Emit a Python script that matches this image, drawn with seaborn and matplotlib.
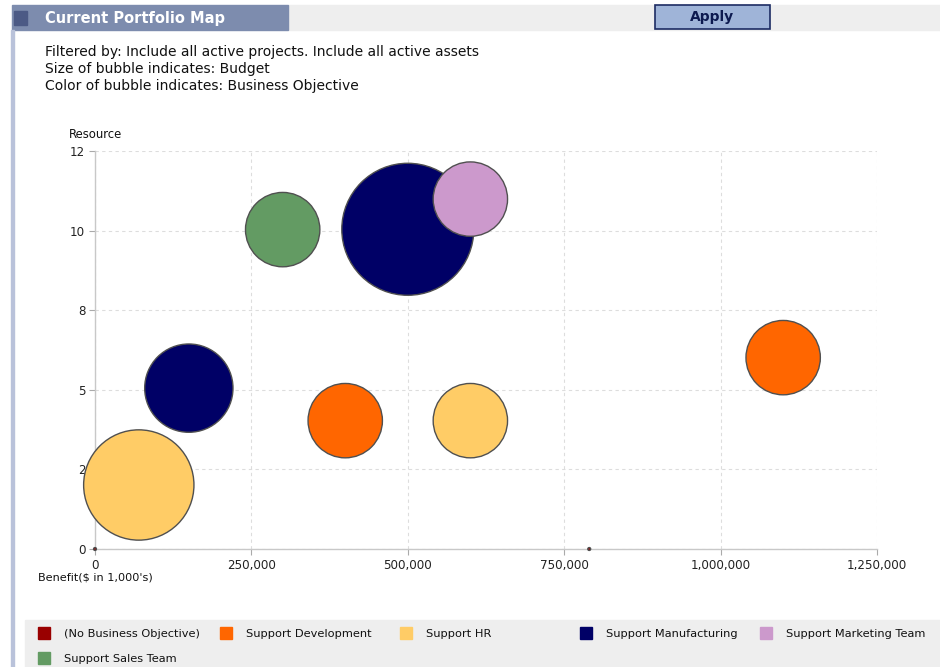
import matplotlib
matplotlib.use("Agg")
import matplotlib.pyplot as plt
from matplotlib.patches import Rectangle
import seaborn as sns
import pandas as pd

# ---- data ----
objectives = ["(No Business Objective)", "Support Development", "Support HR",
              "Support Manufacturing", "Support Marketing Team", "Support Sales Team"]
colors = ["#990000", "#ff6600", "#ffcc66", "#000066", "#cc99cc", "#639b63"]

proj_objective = ["Support HR", "Support Manufacturing", "Support Sales Team",
                  "Support Manufacturing", "Support Marketing Team", "Support Development",
                  "Support HR", "Support Development",
                  "(No Business Objective)", "(No Business Objective)"]
benefit = [70000, 150000, 300000, 500000, 600000, 400000, 600000, 1100000, 790000, 0]
resource = [1.93, 4.85, 9.63, 9.64, 10.55, 3.87, 3.87, 5.77, 0.0, 0.0]
budget = [220, 141, 100, 315, 100, 100, 100, 100, 0.15, 0.15]

x_ticks = [0, 250000, 500000, 750000, 1000000, 1250000]
x_labels = ["0", "250,000", "500,000", "750,000", "1,000,000", "1,250,000"]
y_ticks = [0, 2.4, 4.8, 7.2, 9.6, 12]
y_labels = ["0", "2", "5", "8", "10", "12"]

df = pd.DataFrame({"Objective": proj_objective, "Benefit": benefit,
                   "Resource": resource, "Budget": budget})
palette = dict(zip(objectives, colors))

W, H = 940, 667
fig = plt.figure(figsize=(W / 100, H / 100), dpi=100)
fig.patch.set_facecolor("white")

def fx(px):
    return px / W

def fy(py):
    return 1 - py / H

# ---- page chrome ----
fig.patches.append(Rectangle((fx(288), fy(30)), fx(940 - 288), 25 / H,
                             transform=fig.transFigure, color="#eeeeee", zorder=0))
fig.patches.append(Rectangle((fx(12), fy(30)), fx(276), 25 / H,
                             transform=fig.transFigure, color="#7d8cae", zorder=1))
fig.patches.append(Rectangle((fx(14), fy(25)), fx(13), 14 / H,
                             transform=fig.transFigure, color="#4c5a85", zorder=2))
fig.text(fx(45), fy(18), "Current Portfolio Map", color="white", fontsize=10.5,
         fontweight="bold", va="center", ha="left", zorder=3)
fig.patches.append(Rectangle((fx(655), fy(29)), fx(115), 24 / H,
                             transform=fig.transFigure, facecolor="#9fb4d8",
                             edgecolor="#1d2c63", linewidth=1.2, zorder=2))
fig.text(fx(712), fy(17), "Apply", color="#0d1a50", fontsize=10, fontweight="bold",
         va="center", ha="center", zorder=3)
fig.patches.append(Rectangle((fx(11), 0), fx(3), fy(30),
                             transform=fig.transFigure, color="#b9c2da", zorder=1))

for i, line in enumerate(["Filtered by: Include all active projects. Include all active assets",
                          "Size of bubble indicates: Budget",
                          "Color of bubble indicates: Business Objective"]):
    fig.text(fx(45), fy(52 + 17 * i), line, fontsize=10, color="#111111",
             va="center", ha="left")

# ---- chart ----
ax = fig.add_axes([fx(95), fy(549), fx(877 - 95), (549 - 151) / H])
sns.scatterplot(data=df, x="Benefit", y="Resource", hue="Objective", palette=palette,
                size="Budget", sizes=(0, 9033), size_norm=(0, 315),
                edgecolor="#505050", linewidth=1.0, legend=False, ax=ax, zorder=3)
for c in ax.collections:
    c.set_clip_on(False)

ax.set_xlim(0, 1250000)
ax.set_ylim(0, 12)
ax.set_xticks(x_ticks)
ax.set_xticklabels(x_labels)
ax.set_yticks(y_ticks)
ax.set_yticklabels(y_labels)
ax.tick_params(axis="both", labelsize=8.6, colors="#aaaaaa", labelcolor="#222222",
               length=4, width=0.8, pad=3)
ax.grid(True, linestyle=(0, (3, 3)), color="#dddddd", linewidth=0.8)
ax.set_axisbelow(True)
for s in ["top", "right"]:
    ax.spines[s].set_visible(False)
for s in ["left", "bottom"]:
    ax.spines[s].set_color("#c8c8c8")
    ax.spines[s].set_linewidth(1.0)
ax.set_xlabel("")
ax.set_ylabel("")
fig.text(fx(69), fy(134), "Resource", fontsize=8.4, color="#111111", va="center", ha="left")
fig.text(fx(38), fy(577), "Benefit($ in 1,000's)", fontsize=8.1, color="#111111",
         va="center", ha="left")

# ---- legend ----
fig.patches.append(Rectangle((fx(25), 0), fx(915), (667 - 620) / H,
                             transform=fig.transFigure, color="#eeeeee", zorder=0))
pos = [(38, 633), (220, 633), (400, 633), (580, 633), (760, 633), (38, 658)]
for (px, py), name, col in zip(pos, objectives, colors):
    fig.patches.append(Rectangle((fx(px), fy(py + 6)), fx(12), 12 / H,
                                 transform=fig.transFigure, color=col, zorder=2))
    fig.text(fx(px + 26), fy(py + 1), name, fontsize=8.2, color="#111111",
             va="center", ha="left", zorder=3)

fig.savefig("out.png", dpi=100)
